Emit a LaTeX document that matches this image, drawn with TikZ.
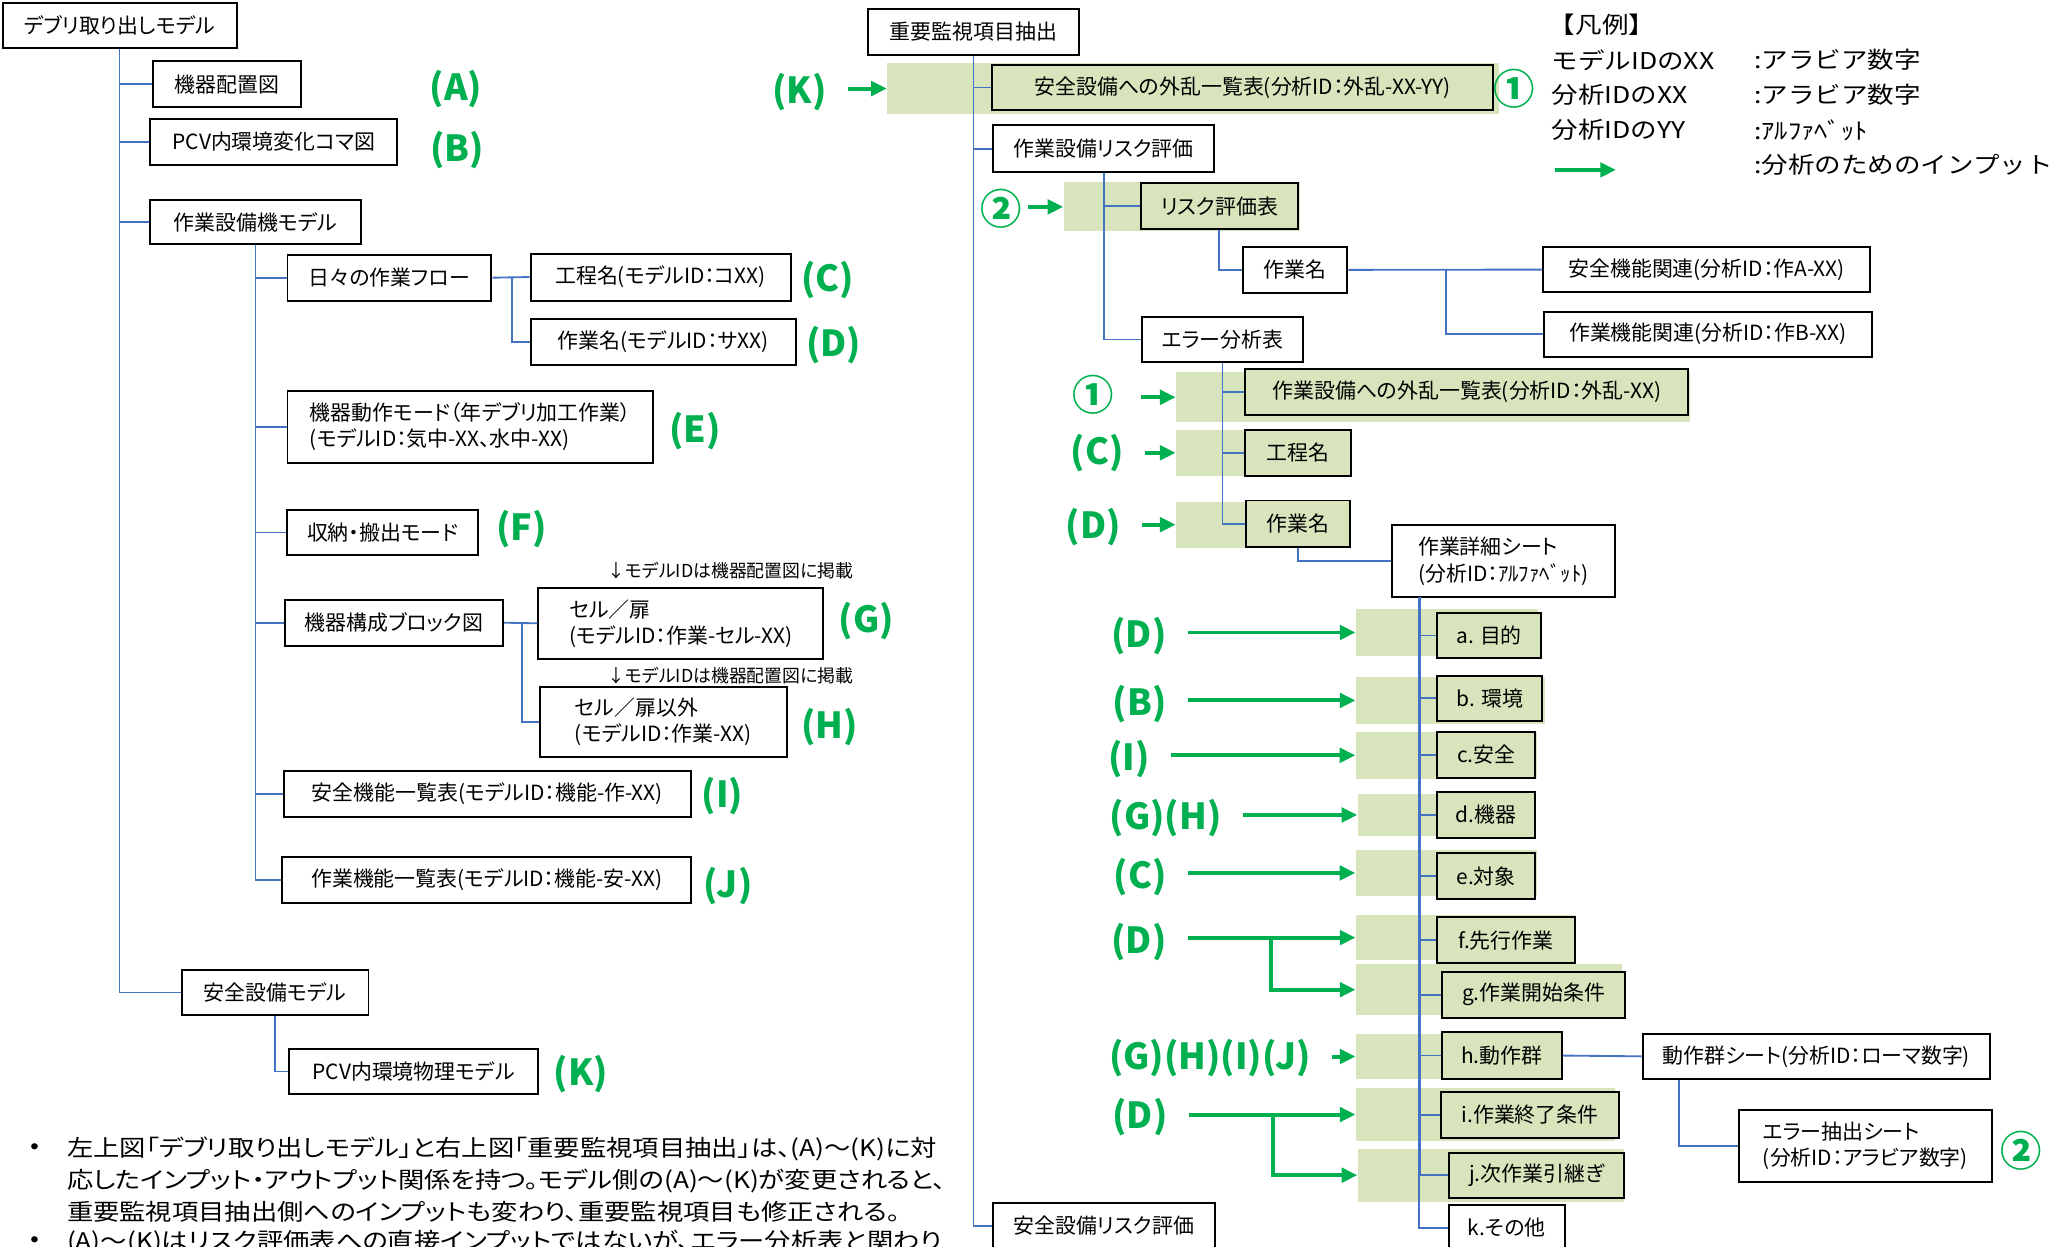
\documentclass[tikz,border=0pt]{standalone}
\usepackage{fontspec}
\setmainfont{Noto Sans CJK JP}[RawFeature=+palt]
\newfontfamily\legfont{Noto Sans CJK JP}[FakeStretch=1.15]
\newfontfamily\bottomfont{Noto Sans CJK JP}[FakeStretch=1.15,RawFeature=+palt]
\usetikzlibrary{arrows.meta, positioning}
\newcommand{\pxu}{0.6pt}
\definecolor{treeblue}{HTML}{4472C4}
\definecolor{ingreen}{HTML}{00B050}
\definecolor{bandgreen}{HTML}{D8E4BC}

\begin{document}
\begin{tikzpicture}[x=\pxu, y=-\pxu,
            box/.style={draw, line width=0.9pt, fill=white, inner sep=2pt,
                        font=\fontsize{9.6pt}{12pt}\selectfont, align=center},
            gbox/.style={box, fill=bandgreen},
            wh/.style 2 args={minimum width=#1*\pxu, minimum height=#2*\pxu},
            band/.style={fill=bandgreen, draw=none, inner sep=0pt},
            tree/.style={draw=treeblue, line width=0.85pt},
            lbl/.style={text=ingreen, inner sep=0pt,
                        font=\bfseries\fontsize{16.5pt}{18pt}\selectfont},
            circ/.style={text=ingreen, inner sep=0pt,
                         font=\bfseries\fontsize{19pt}{20pt}\selectfont},
            inarr/.style={draw=ingreen, line width=1.8pt, shorten <=9.6pt,
                          -{Triangle[length=7.2pt, width=6.6pt]}},
            note/.style={inner sep=0pt, font=\fontsize{8.2pt}{9pt}\selectfont},
            legend/.style={anchor=west, inner sep=0pt,
                           font=\legfont\fontsize{10.6pt}{13pt}\selectfont},
            body/.style={anchor=base west, inner sep=0pt,
                         font=\bottomfont\fontsize{10.5pt}{12pt}\selectfont}]

            \useasboundingbox (0,0) rectangle (1568,954);

            %% ── Bands ─────────────────────────────────────────────────────
            \node[band, wh={468}{38.5}]   (bK) at (913,67.75)    {};
            \node[band, wh={181}{37.4}]   (b2) at (904.5,158.3)  {};
            \node[band, wh={393}{38}]     (b1) at (1096.5,304)   {};
            \node[band, wh={134}{35}]     (bC) at (967,346.5)    {};
            \node[band, wh={133}{35}]     (bD) at (966.5,401.5)  {};
            \node[band, wh={139.4}{36}]   (ba) at (1107.3,484)   {};
            \node[band, wh={145}{36}]     (bb) at (1110.1,536)   {};
            \node[band, wh={139}{36}]     (bc) at (1107,578)     {};
            \node[band, wh={135}{32}]     (bd) at (1106.5,623.65) {};
            \node[band, wh={139}{35}]     (be) at (1107,668)     {};
            \node[band, wh={168.4}{35}]   (bf) at (1121.8,717.5) {};
            \node[band, wh={203.4}{39.3}] (bg) at (1139.3,757.35) {};
            \node[band, wh={157.4}{35}]   (bh) at (1116.3,808.5) {};
            \node[band, wh={198.4}{40.2}] (bi) at (1136.8,852.9) {};
            \node[band, wh={204}{40.6}]   (bj) at (1141,899.3)   {};

            %% ── Left tree ─────────────────────────────────────────────────
            \node[box, wh={179}{35}]  (root)    at (91.5,19.5)  {デブリ取り出しモデル};
            \node[box, wh={113}{35}]  (haichi)  at (173.5,64.5) {機器配置図};
            \node[box, wh={189}{35}]  (koma)    at (209.5,108.5) {PCV内環境変化コマ図};
            \node[box, wh={161}{34}]  (sbmodel) at (195.5,170)  {作業設備機モデル};
            \node[box, wh={156}{35}]  (flow)    at (298,212.5)  {日々の作業フロー};
            \node[box, wh={199}{36}]  (kotei)   at (505.5,212)  {工程名(モデルID：コXX)};
            \node[box, wh={203}{35}]  (sagyo)   at (507.5,261.5) {作業名(モデルID：サXX)};
            \node[box, wh={280}{55}, align=left] (mode) at (360,326.5)
                {機器動作モード（年デブリ加工作業）\\(モデルID：気中-XX、水中-XX)};
            \node[box, wh={146.5}{35}] (shuno)  at (292.75,407.5) {収納・搬出モード};
            \node[box, wh={167}{35}]  (block)   at (301.5,476.5) {機器構成ブロック図};
            \node[box, wh={218}{54}, align=left] (cell)  at (521,477)
                {セル／扉\\(モデルID：作業-セル-XX)};
            \node[box, wh={189}{53}, align=left] (cellx) at (507.5,552.5)
                {セル／扉以外\\(モデルID：作業-XX)};
            \node[box, wh={312}{35}]  (anzen)   at (373,607.5)  {安全機能一覧表(モデルID：機能-作-XX)};
            \node[box, wh={313}{35}]  (sakino)  at (372.5,673.5) {作業機能一覧表(モデルID：機能-安-XX)};
            \node[box, wh={143}{35}]  (asmodel) at (210.5,759.5) {安全設備モデル};
            \node[box, wh={191}{34}]  (pcv)     at (316.5,820)  {PCV内環境物理モデル};

            \node[note] (n1) at (559,437) {↓モデルIDは機器配置図に掲載};
            \node[note] (n2) at (559,517) {↓モデルIDは機器配置図に掲載};

            \node[lbl] (lA) at (349,68)     {(A)};
            \node[lbl] (lB) at (350,115)    {(B)};
            \node[lbl] (lC) at (633.5,214)  {(C)};
            \node[lbl] (lD) at (638,264)    {(D)};
            \node[lbl] (lE) at (532,330)    {(E)};
            \node[lbl] (lF) at (399,405)    {(F)};
            \node[lbl] (lG) at (663,475)    {(G)};
            \node[lbl] (lH) at (635,556)    {(H)};
            \node[lbl] (lI) at (553,609)    {(I)};
            \node[lbl] (lJ) at (557,678)    {(J)};
            \node[lbl] (lK) at (444.5,822)  {(K)};

            %% ── Right tree ────────────────────────────────────────────────
            \node[box, wh={162}{35}]     (juyo)    at (745,24.5)   {重要監視項目抽出};
            \node[gbox, wh={383.6}{34}]  (gaiK)    at (950.8,67)
                {安全設備への外乱一覧表(分析ID：外乱-XX-YY)};
            \node[box, wh={169}{35.6}]   (sbrisk)  at (844.5,113.8) {作業設備リスク評価};
            \node[gbox, wh={120}{35.6}]  (riskhyo) at (933,157.8)  {リスク評価表};
            \node[box, wh={80}{35}]      (sgm1)    at (991,206.5)  {作業名};
            \node[box, wh={250}{34.6}]   (kanA)    at (1306,206.3) {安全機能関連(分析ID：作A-XX)};
            \node[box, wh={251}{34.5}]   (kanB)    at (1307,255.75) {作業機能関連(分析ID：作B-XX)};
            \node[box, wh={123}{34.4}]   (erbun)   at (935.5,259.8) {エラー分析表};
            \node[gbox, wh={339}{35.2}]  (gai1)    at (1122.5,300)
                {作業設備への外乱一覧表(分析ID：外乱-XX)};
            \node[gbox, wh={81}{35}]     (kotei2)  at (993.5,346.5) {工程名};
            \node[gbox, wh={79.4}{35.4}] (sgm2)    at (993.3,400.7) {作業名};
            \node[box, wh={171}{55}, align=left] (shosai) at (1150.5,429.5)
                {作業詳細シート\\(分析ID：ｱﾙﾌｧﾍﾞｯﾄ)};

            \node[gbox, wh={79}{34.6}]    (ra) at (1139.5,486.3)  {a. 目的};
            \node[gbox, wh={80}{34.7}]    (rb) at (1140,534.35)   {b. 環境};
            \node[gbox, wh={74.6}{35}]    (rc) at (1137.3,577.5)  {c.安全};
            \node[gbox, wh={74.6}{35}]    (rd) at (1137.3,623.5)  {d.機器};
            \node[gbox, wh={74.6}{35}]    (re) at (1137.3,670.5)  {e.対象};
            \node[gbox, wh={105}{35}]     (rf) at (1152.5,719.5)  {f.先行作業};
            \node[gbox, wh={140}{35.2}]   (rg) at (1173.55,761.2) {g.作業開始条件};
            \node[gbox, wh={91.5}{35.5}]  (rh) at (1149.25,807.75) {h.動作群};
            \node[gbox, wh={136.3}{35.2}] (ri) at (1170.85,853.2) {i.作業終了条件};
            \node[gbox, wh={134.5}{34.5}] (rj) at (1175.75,899.25) {j.次作業引継ぎ};
            \node[box, wh={89}{35}]       (rk) at (1153,939.5)    {k.その他};

            \node[box, wh={266}{34.7}] (dosa) at (1390,808.35) {動作群シート(分析ID：ローマ数字)};
            \node[box, wh={193.8}{55.2}, align=left] (erext) at (1427.5,877)
                {エラー抽出シート\\(分析ID：アラビア数字)};
            \node[box, wh={169.4}{35.3}] (asrisk) at (844.7,938) {安全設備リスク評価};

            \node[lbl, anchor=east] (rK)    at (633,70.5)   {(K)};
            \node[circ, anchor=east] (r2)   at (782,160)    {②};
            \node[circ, anchor=east] (r1)   at (853,302)    {①};
            \node[lbl, anchor=east] (rC)    at (860,347)    {(C)};
            \node[lbl, anchor=east] (rD)    at (858,403)    {(D)};
            \node[lbl, anchor=east] (rDa)   at (893,487)    {(D)};
            \node[lbl, anchor=east] (rBb)   at (893,539)    {(B)};
            \node[lbl, anchor=east] (rIc)   at (880,581)    {(I)};
            \node[lbl, anchor=east] (rGHd)  at (935,626)    {(G)(H)};
            \node[lbl, anchor=east] (rCe)   at (893,671)    {(C)};
            \node[lbl, anchor=east] (rDf)   at (893,720.6)  {(D)};
            \node[lbl, anchor=east] (rGHIJ) at (1003.6,810) {(G)(H)(I)(J)};
            \node[lbl, anchor=east] (rDi)   at (893.8,855)  {(D)};
            \node[circ] (cK)  at (1159,68)      {①};
            \node[circ] (cEr) at (1546.5,880.6) {②};

            %% ── Legend ────────────────────────────────────────────────────
            \node[legend] (lgT) at (1185,19)    {【凡例】};
            \node[legend] (lg1) at (1187,46)    {モデルIDのXX};
            \node[legend] (lg2) at (1187,72.7)  {分析IDのXX};
            \node[legend] (lg3) at (1187,99.5)  {分析IDのYY};
            \node[legend] (lv1) at (1342,46)    {:アラビア数字};
            \node[legend] (lv2) at (1342,72.7)  {:アラビア数字};
            \node[legend] (lv3) at (1342,99.5)  {:ｱﾙﾌｧﾍﾞｯﾄ};
            \node[legend] (lv4) at (1342,126.3) {:分析のためのインプット};
            \coordinate (lgA) at (1190,130);
            \coordinate (lgB) at (1236.6,130);

            %% ── Notes ─────────────────────────────────────────────────────
            \node[body, anchor=center] (bu1) at (27,878.6) {•};
            \node[body] (t1) at (51,885)
                {左上図「デブリ取り出しモデル」と右上図「重要監視項目抽出」は、(A)～(K)に対};
            \node[body] (t2) at (51,909.5)
                {応したインプット・アウトプット関係を持つ。モデル側の(A)～(K)が変更されると、};
            \node[body] (t3) at (51,934)
                {重要監視項目抽出側へのインプットも変わり、重要監視項目も修正される。};
            \node[body, anchor=center] (bu2) at (27,950) {•};
            \node[body] (t4) at (51,956.5)
                {(A)～(K)はリスク評価表への直接インプットではないが、エラー分析表と関わり};

            %% ── Tree lines ────────────────────────────────────────────────
            \draw[tree] (root.south) |- (haichi.west);
            \draw[tree] (root.south) |- (koma.west);
            \draw[tree] (root.south) |- (sbmodel.west);
            \draw[tree] (root.south) |- (asmodel.west);
            \draw[tree] (sbmodel.south) |- (flow.west);
            \draw[tree] (sbmodel.south) |- (mode.west);
            \draw[tree] (sbmodel.south) |- (shuno.west);
            \draw[tree] (sbmodel.south) |- (block.west);
            \draw[tree] (sbmodel.south) |- (anzen.west);
            \draw[tree] (sbmodel.south) |- (sakino.west);
            \draw[tree] (flow.east) -- (kotei.west);
            \draw[tree] (flow.east) ++(15,0) |- (sagyo.west);
            \draw[tree] (block.east) -- (cell.west);
            \draw[tree] (block.east) ++(14,0) |- (cellx.west);
            \draw[tree] (asmodel.south) |- (pcv.west);

            \draw[tree] (juyo.south) |- (gaiK.west);
            \draw[tree] (juyo.south) |- (sbrisk.west);
            \draw[tree] (juyo.south) |- (asrisk.west);
            \draw[tree] (sbrisk.south) |- (riskhyo.west);
            \draw[tree] (sbrisk.south) |- (erbun.west);
            \draw[tree] (riskhyo.south) |- (sgm1.west);
            \draw[tree] (sgm1.east) -- (kanA.west);
            \draw[tree] (sgm1.east) ++(75,0) |- (kanB.west);
            \draw[tree] (erbun.south) |- (gai1.west);
            \draw[tree] (erbun.south) |- (kotei2.west);
            \draw[tree] (erbun.south) |- (sgm2.west);
            \draw[tree] (sgm2.south) |- (shosai.west);
            \coordinate (st) at (1086,457);
            \draw[tree, line width=1.4pt] (st) -- (st |- rj.west);
            \draw[tree] (st) |- (ra.west);
            \draw[tree] (st) |- (rb.west);
            \draw[tree] (st) |- (rc.west);
            \draw[tree] (st) |- (rd.west);
            \draw[tree] (st) |- (re.west);
            \draw[tree] (st) |- (rf.west);
            \draw[tree] (st) |- (rg.west);
            \draw[tree] (st) |- (rh.west);
            \draw[tree] (st) |- (ri.west);
            \draw[tree] (st) |- (rj.west);
            \draw[tree] (st) |- (rk.west);
            \draw[tree] (rh.east) -- (dosa.west);
            \draw[tree] (dosa.south west) ++(28.6,0) |- (erext.west);

            %% ── Inputs ────────────────────────────────────────────────────
            \draw[inarr] (rK.east |- bK.west) -- (bK.west);
            \draw[inarr, shorten <=3pt] (r2.east |- b2.west) -- (b2.west);
            \draw[inarr, shorten <=12pt] (r1.east |- b1.west) -- (b1.west);
            \draw[inarr] (rC.east |- bC.west) -- (bC.west);
            \draw[inarr] (rD.east |- bD.west) -- (bD.west);
            \draw[inarr] (rDa.east |- ba.west) -- (ba.west);
            \draw[inarr] (rBb.east |- bb.west) -- (bb.west);
            \draw[inarr] (rIc.east |- bc.west) -- (bc.west);
            \draw[inarr] (rGHd.east |- bd.west) -- (bd.west);
            \draw[inarr] (rCe.east |- be.west) -- (be.west);
            \draw[inarr] (rDf.east |- bf.west) -- (bf.west);
            \coordinate (fsp) at (972.6,717.5);
            \draw[inarr, shorten <=0pt] (fsp) |- (bg.west);
            \draw[inarr] (rGHIJ.east |- bh.west) -- (bh.west);
            \draw[inarr] (rDi.east |- bi.west) -- (bi.west);
            \coordinate (isp) at (974,852.9);
            \draw[inarr, shorten <=0pt] (isp) |- (bj.west);
            \draw[inarr, shorten <=0pt] (lgA) -- (lgB);

\end{tikzpicture}
\end{document}
